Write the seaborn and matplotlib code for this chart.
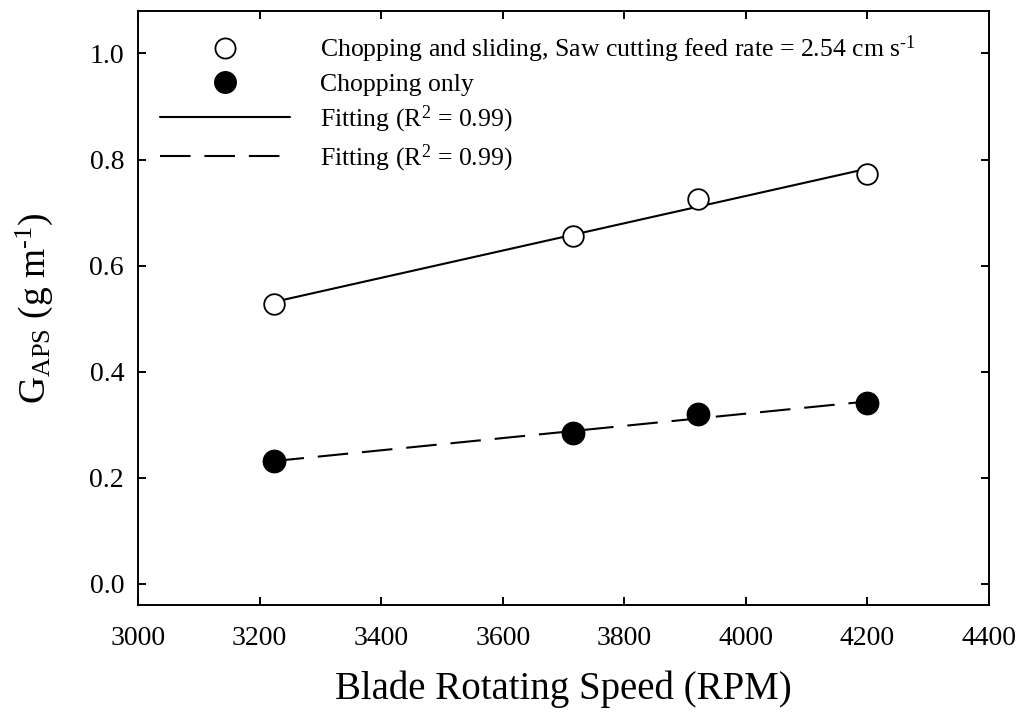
import numpy as np
import pandas as pd
import seaborn as sns
import matplotlib.pyplot as plt
from matplotlib.lines import Line2D

# Data
speed = [3223, 3715, 3921, 4200]
g_chop_slide = [0.528, 0.656, 0.726, 0.773]
g_chop_only = [0.231, 0.284, 0.320, 0.340]

label_open = 'Chopping and sliding, Saw cutting feed rate = 2.54 cm s$^{\\mathrm{\u2010}1}$'
label_filled = 'Chopping only'
label_fit = r'Fitting (R$^{\mathrm{2}}$ = 0.99)'

df = pd.DataFrame({'speed': speed, 'slide': g_chop_slide, 'chop': g_chop_only})

sns.set_theme(style='ticks')
plt.rcParams['font.family'] = ['Liberation Serif', 'DejaVu Serif']
plt.rcParams['mathtext.fontset'] = 'custom'
plt.rcParams['mathtext.rm'] = 'Liberation Serif'
plt.rcParams['mathtext.it'] = 'Liberation Serif:italic'
plt.rcParams['lines.scale_dashes'] = False
plt.rcParams['text.color'] = 'black'
plt.rcParams['axes.labelcolor'] = 'black'

dash = (0, (22, 10))

fig = plt.figure(figsize=(10.26, 7.2), dpi=100)
ax = fig.add_axes([0.1345, 0.1597, 0.8295, 0.825])

# Points
sns.scatterplot(data=df, x='speed', y='slide', ax=ax, marker='o', s=220,
                facecolor='white', edgecolor='black', linewidth=1.3, zorder=3)
sns.scatterplot(data=df, x='speed', y='chop', ax=ax, marker='o', s=260,
                color='black', edgecolor='black', linewidth=1.0, zorder=3)

# Linear fits
sns.regplot(data=df, x='speed', y='slide', ax=ax, scatter=False, ci=None,
            color='black', line_kws={'linewidth': 1.5})
sns.regplot(data=df, x='speed', y='chop', ax=ax, scatter=False, ci=None,
            color='black', line_kws={'linewidth': 1.5, 'linestyle': dash})

ax.set_xlim(3000, 4400)
ax.set_ylim(-0.04, 1.08)
ax.set_xticks(np.arange(3000, 4401, 200))
ax.set_yticks(np.arange(0, 1.01, 0.2))
ax.set_yticklabels([f'{v:.1f}' for v in np.arange(0, 1.01, 0.2)])

ax.tick_params(direction='in', top=True, right=True, length=6, width=1.4,
               labelsize=20, colors='black')
ax.tick_params(axis='x', pad=15)
ax.tick_params(axis='y', pad=10)
for sp in ax.spines.values():
    sp.set_visible(True)
    sp.set_linewidth(1.4)
    sp.set_color('black')

ax.set_xlabel('Blade Rotating Speed (RPM)', fontsize=28, labelpad=14)
ax.set_ylabel('G$_{\\mathrm{APS}}$ (g m$^{\\mathrm{\u2010}1}$)', fontsize=27, labelpad=25)

handles = [
    Line2D([], [], linestyle='none', marker='o', markersize=14.5,
           markerfacecolor='white', markeredgecolor='black', markeredgewidth=1.3),
    Line2D([], [], linestyle='none', marker='o', markersize=15.5,
           markerfacecolor='black', markeredgecolor='black'),
    Line2D([], [], color='black', linewidth=1.5),
    Line2D([], [], color='black', linewidth=1.5, linestyle=dash),
]
labels = [label_open, label_filled, label_fit, label_fit]
ax.legend(handles, labels, loc='upper left', bbox_to_anchor=(0.008, 0.988),
          frameon=False, fontsize=18.5, handlelength=5.06, handletextpad=1.17,
          labelspacing=0.3, borderaxespad=0.2)

fig.savefig('out.png', dpi=100)
